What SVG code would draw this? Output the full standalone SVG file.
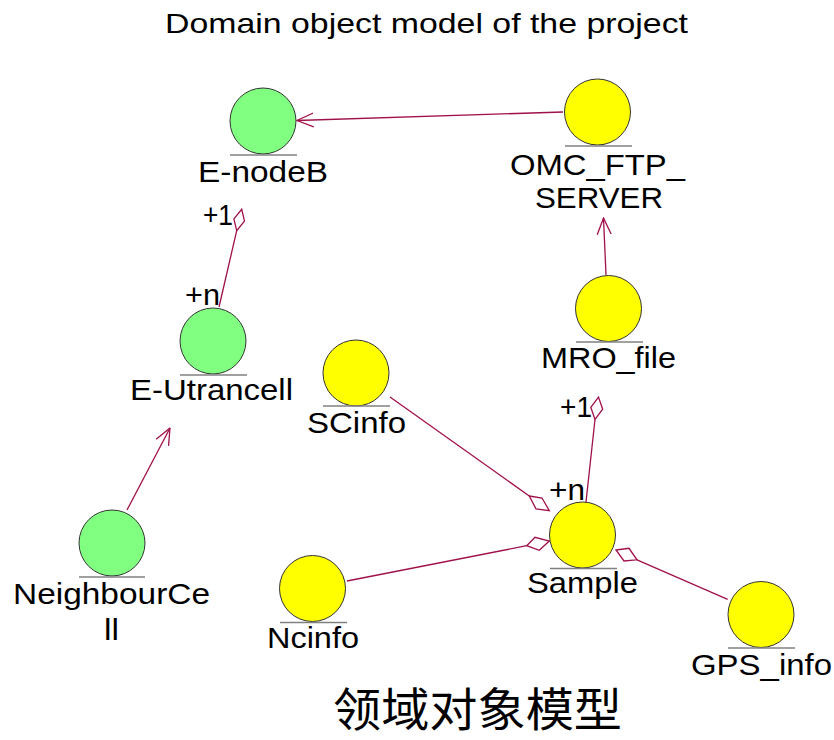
<svg xmlns="http://www.w3.org/2000/svg" width="834" height="740" viewBox="0 0 834 740">
<style>
text{font-family:"Liberation Sans",Arial,sans-serif;font-size:30px;fill:#000}
.title{font-size:28px}
.g{fill:#80FF80;stroke:#333;stroke-width:1}
.y{fill:#FFFF00;stroke:#333;stroke-width:1}
.ul{stroke:#808080;stroke-width:1.5}
.c{stroke:#A0104A;stroke-width:1.3;fill:none}
.d{stroke:#A0104A;stroke-width:1.3;fill:#fff}
.cjk{font-family:"Noto Sans CJK SC","Liberation Sans",sans-serif;font-size:46px}
</style>
<defs>
<marker id="arr" markerUnits="userSpaceOnUse" viewBox="0 0 17 16" refX="16.5" refY="8" markerWidth="17" markerHeight="16" orient="auto">
<path d="M0,1 L16.5,8 L0,15" fill="none" stroke="#A0104A" stroke-width="1.3"/>
</marker>
</defs>
<rect width="834" height="740" fill="#fff"/>
<text class="title" x="165" y="33" textLength="523" lengthAdjust="spacingAndGlyphs">Domain object model of the project</text>
<g id="connectors">
<line class="c" x1="563" y1="112" x2="297" y2="120.5" marker-end="url(#arr)"/>
<line class="c" x1="606" y1="275" x2="603.5" y2="218" marker-end="url(#arr)"/>
<line class="c" x1="127" y1="510" x2="170" y2="428" marker-end="url(#arr)"/>
<line class="c" x1="219" y1="307" x2="236.7" y2="230.7"/>
<polygon class="d" points="236.7,230.7 233.9,218.8 241.7,209.3 244.5,221.2"/>
<line class="c" x1="586" y1="502" x2="595" y2="419.5"/>
<polygon class="d" points="595,419.5 590.8,407.3 598.5,397 602.7,409.2"/>
<line class="c" x1="390" y1="397" x2="529.3" y2="496"/>
<polygon class="d" points="529.3,496 542,498 549.3,510.7 536,508.8"/>
<line class="c" x1="347" y1="581" x2="526.7" y2="545.7"/>
<polygon class="d" points="526.7,545.7 535,537.3 549.3,541 539.3,550.3"/>
<line class="c" x1="727.7" y1="599.3" x2="637" y2="559.8"/>
<polygon class="d" points="616,550 629,548.3 637,559.8 624,561"/>
<text x="203" y="225" textLength="30" lengthAdjust="spacingAndGlyphs">+1</text>
<text x="185" y="305" textLength="35" lengthAdjust="spacingAndGlyphs">+n</text>
<text x="560" y="417" textLength="32" lengthAdjust="spacingAndGlyphs">+1</text>
<text x="549" y="500" textLength="36" lengthAdjust="spacingAndGlyphs">+n</text>
</g>
<g id="enodeb">
<circle class="g" cx="263" cy="121" r="33"/>
<line class="ul" x1="230" y1="155" x2="297" y2="155"/>
<text x="198" y="182" textLength="130" lengthAdjust="spacingAndGlyphs">E-nodeB</text>
</g>
<g id="eutrancell">
<circle class="g" cx="213" cy="341" r="33"/>
<line class="ul" x1="180" y1="375" x2="247" y2="375"/>
<text x="130" y="400" textLength="163" lengthAdjust="spacingAndGlyphs">E-Utrancell</text>
</g>
<g id="neighbourcell">
<circle class="g" cx="112" cy="543" r="33"/>
<line class="ul" x1="79" y1="577" x2="145" y2="577"/>
<text x="13" y="604" textLength="197" lengthAdjust="spacingAndGlyphs">NeighbourCe</text>
<text x="104" y="640" textLength="15" lengthAdjust="spacingAndGlyphs">ll</text>
</g>
<g id="omc">
<circle class="y" cx="597.5" cy="112" r="33"/>
<line class="ul" x1="565" y1="146" x2="632" y2="146"/>
<text x="510" y="175" textLength="175" lengthAdjust="spacingAndGlyphs">OMC_FTP_</text>
<text x="535" y="208" textLength="128" lengthAdjust="spacingAndGlyphs">SERVER</text>
</g>
<g id="mro">
<circle class="y" cx="608.5" cy="308.5" r="33"/>
<line class="ul" x1="576" y1="342" x2="643" y2="342"/>
<text x="541" y="368" textLength="135" lengthAdjust="spacingAndGlyphs">MRO_file</text>
</g>
<g id="scinfo">
<circle class="y" cx="356" cy="373" r="33"/>
<line class="ul" x1="323" y1="406" x2="390" y2="406"/>
<text x="307" y="433" textLength="99" lengthAdjust="spacingAndGlyphs">SCinfo</text>
</g>
<g id="sample">
<circle class="y" cx="582.5" cy="535" r="33"/>
<line class="ul" x1="550" y1="568.5" x2="617" y2="568.5"/>
<text x="527" y="593" textLength="111" lengthAdjust="spacingAndGlyphs">Sample</text>
</g>
<g id="ncinfo">
<circle class="y" cx="312.5" cy="588.5" r="33"/>
<line class="ul" x1="280" y1="622.5" x2="347" y2="622.5"/>
<text x="267" y="648" textLength="92" lengthAdjust="spacingAndGlyphs">Ncinfo</text>
</g>
<g id="gpsinfo">
<circle class="y" cx="761" cy="614.5" r="33"/>
<line class="ul" x1="728" y1="648" x2="795" y2="648"/>
<text x="691" y="675" textLength="141" lengthAdjust="spacingAndGlyphs">GPS_info</text>
</g>
<text class="cjk" x="333" y="726" textLength="289" lengthAdjust="spacingAndGlyphs">领域对象模型</text>
</svg>
